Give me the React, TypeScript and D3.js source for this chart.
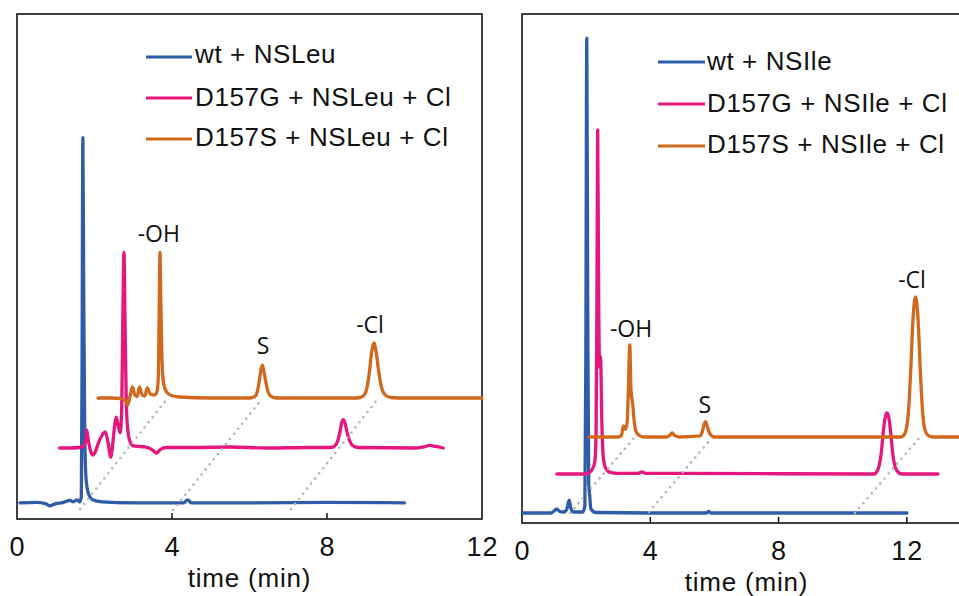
import React, { useEffect, useRef } from "react";
import { scaleLinear, line, curveMonotoneX, axisBottom, select } from "d3";

type Pt = [number, number];

const colors = ["#2e5ca8", "#e5177f", "#d0681e"];
const tickValues = [0, 4, 8, 12];
const axisTitle = "time (min)";

const leuLegend = ["wt + NSLeu", "D157G + NSLeu + Cl", "D157S + NSLeu + Cl"];
const ileLegend = ["wt + NSIle", "D157G + NSIle + Cl", "D157S + NSIle + Cl"];

// stacked baseline of each trace (% of frame height)
const leuOffsets = [3.2, 14.06, 23.96];
const ileOffsets = [1.96, 9.63, 16.9];

// [time (min), signal above baseline]
const leuWt: Pt[] = [
  [0.08, 0], [0.5, 0.1], [0.75, -0.2], [0.85, -0.6], [0.95, -0.3], [1.2, 0.1],
  [1.37, 0.5], [1.45, 0.2], [1.55, 0.6], [1.62, 0.2], [1.66, 1.2], [1.68, 30],
  [1.7, 72.3], [1.72, 45], [1.75, 12], [1.79, 4], [1.86, 1.5], [1.95, 0.6],
  [2.2, 0.2], [3, 0], [4.3, 0], [4.4, 0.6], [4.5, 0], [6, 0], [8, 0.1], [10, 0]
];
const leuG: Pt[] = [
  [1.1, 0], [1.4, 0], [1.6, 0.1], [1.74, 0.6], [1.78, 2], [1.8, 3.6], [1.84, 1.5],
  [1.9, -0.6], [1.95, -1.4], [2.02, -0.8], [2.1, 1], [2.2, 2.6], [2.28, 3.2],
  [2.35, 1], [2.42, -1.8], [2.48, 1.5], [2.52, 4.5], [2.56, 6.1], [2.61, 4.5],
  [2.66, 3], [2.7, 7], [2.73, 25], [2.76, 38.8], [2.79, 24], [2.82, 9], [2.86, 3.5],
  [2.92, 1.2], [3.0, 0.4], [3.3, 0.2], [3.5, -0.4], [3.6, -1], [3.7, -0.3],
  [3.85, 0.1], [4.5, 0.1], [5.5, 0.2], [6.5, 0], [7.5, 0.1], [8.1, 0.1], [8.2, 0.4],
  [8.28, 1.5], [8.33, 3], [8.38, 5], [8.42, 5.6], [8.47, 4.8], [8.52, 3], [8.58, 1.5],
  [8.66, 0.5], [8.8, 0.1], [10.3, 0], [10.5, 0.2], [10.65, 0.5], [10.8, 0.3], [11.0, 0]
];
const leuS: Pt[] = [
  [2.09, 0], [2.4, 0], [2.7, -0.1], [2.8, -0.6], [2.86, -1.4], [2.92, 0.5], [2.98, 2.2],
  [3.04, 0.6], [3.1, 0.3], [3.16, 2.2], [3.23, 0.6], [3.3, 0.4], [3.36, 2.0],
  [3.44, 0.8], [3.55, 0.6], [3.62, 1.5], [3.65, 5], [3.67, 18], [3.69, 28.9],
  [3.71, 20], [3.74, 8], [3.78, 3], [3.86, 1.2], [3.98, 0.5], [4.2, 0.2], [5, 0],
  [6.0, 0], [6.14, 0.3], [6.2, 1.2], [6.25, 3.2], [6.29, 5.4], [6.33, 6.5], [6.37, 5.4],
  [6.42, 3.2], [6.48, 1.2], [6.56, 0.3], [6.7, 0], [8.8, 0], [8.95, 0.5], [9.03, 2],
  [9.1, 5.5], [9.15, 9], [9.21, 10.9], [9.27, 9], [9.33, 5.5], [9.41, 2], [9.5, 0.6],
  [9.65, 0.1], [10, 0], [12, 0]
];

const ileWt: Pt[] = [
  [0.03, 0], [0.9, 0], [1.0, 0.4], [1.08, 0.8], [1.18, 0.3], [1.3, 0.2], [1.4, 0.8],
  [1.47, 2.55], [1.53, 0.8], [1.6, 0.2], [1.9, 0.2], [1.96, 1.5], [1.99, 30],
  [2.02, 93.3], [2.05, 40], [2.08, 6], [2.11, 3.5], [2.15, 0.8], [2.3, 0.1], [4, 0],
  [5.75, 0], [5.82, 0.3], [5.9, 0], [8, 0], [12, 0]
];
const ileG: Pt[] = [
  [1.09, 0], [2.0, 0], [2.1, 0.3], [2.2, 1], [2.27, 2.4], [2.31, 8], [2.34, 40],
  [2.36, 67.6], [2.39, 35], [2.42, 21], [2.45, 23], [2.49, 10], [2.54, 3], [2.62, 1],
  [2.75, 0.3], [3.0, 0.1], [3.6, 0.1], [3.74, 0.4], [3.85, 0.1], [5, 0.1], [11.0, 0],
  [11.05, 0.3], [11.13, 1.5], [11.2, 4], [11.26, 8], [11.32, 11], [11.38, 12],
  [11.44, 11], [11.5, 8], [11.56, 4], [11.63, 1.5], [11.72, 0.4], [11.85, 0], [12.97, 0]
];
const ileS: Pt[] = [
  [2.09, 0], [3.0, 0], [3.1, 0.3], [3.16, 2.2], [3.22, 1.5], [3.28, 3], [3.32, 10],
  [3.36, 18.1], [3.4, 9], [3.45, 6.6], [3.5, 3], [3.56, 1], [3.65, 0.3], [3.8, 0],
  [4.5, 0], [4.62, 0.4], [4.68, 0.8], [4.75, 0.3], [4.9, 0], [5.55, 0.2], [5.62, 1],
  [5.68, 2.5], [5.72, 3], [5.77, 2.2], [5.83, 1], [5.9, 0.3], [6.0, 0], [11.8, 0],
  [11.9, 0.3], [11.98, 1.5], [12.05, 5], [12.12, 13], [12.19, 23], [12.27, 27.5],
  [12.35, 23], [12.42, 13], [12.49, 5], [12.56, 1.5], [12.65, 0.4], [12.8, 0], [14, 0]
];

// dotted guides: [t0, v0, t1, v1]
const leuGuides = [
  [1.63, 1.98, 3.85, 23.56],
  [4.03, 1.78, 6.3, 23.56],
  [7.07, 1.98, 9.29, 23.56]
];
const ileGuides = [
  [1.5, 1.96, 3.52, 16.9],
  [3.96, 2.16, 5.92, 16.7],
  [10.38, 1.96, 12.41, 16.9]
];

// peak labels: text, time, level of baseline
const peakNames = ["-OH", "S", "-Cl"];
const leuLabelPos = [[3.66, 54.85], [6.35, 32.67], [9.11, 36.83]];
const ileLabelPos = [[3.4, 36.54], [5.7, 21.61], [12.16, 46.17]];

const FONT = "'Liberation Sans', Arial, Helvetica, sans-serif";

function Panel({ x0, x1, top, bottom, maxT, tickMarks, traces, offsets, guides, legend, legendPos, labels }) {
  const axisRef = useRef(null);
  const x = scaleLinear().domain([0, maxT]).range([x0, x1]);
  const y = scaleLinear().domain([0, 100]).range([bottom, top]);

  useEffect(() => {
    const g = select(axisRef.current);
    g.call(
      axisBottom(x)
        .tickValues(tickValues)
        .tickFormat(d => String(d))
        .tickSize(0)
        .tickPadding(18)
    );
    g.select(".domain").remove();
    g.attr("font-size", 27).attr("font-family", FONT);
    g.selectAll("text").attr("fill", "#111").attr("letter-spacing", 1);
  }, [x0, x1, maxT]);

  return (
    <g>
      <rect x={x0} y={top} width={x1 - x0} height={bottom - top} fill="none" stroke="#111" strokeWidth={1.6} />
      {tickMarks.map(t => (
        <line key={t} x1={x(t)} x2={x(t)} y1={bottom} y2={bottom - 6} stroke="#111" strokeWidth={1.5} />
      ))}
      <g ref={axisRef} transform={`translate(0,${bottom})`} />
      <text
        x={(x0 + x1) / 2}
        y={bottom + 68}
        textAnchor="middle"
        fontSize={26}
        letterSpacing={0.8}
        fontFamily={FONT}
        fill="#111"
      >
        {axisTitle}
      </text>

      {traces.map((pts, i) => {
        const path = line<Pt>()
          .x(d => x(d[0]))
          .y(d => y(d[1] + offsets[i]))
          .curve(curveMonotoneX)(pts);
        return (
          <path key={i} d={path} fill="none" stroke={colors[i]} strokeWidth={3.3} strokeLinejoin="round" strokeLinecap="round" />
        );
      })}

      {guides.map((g, i) => (
        <line
          key={i}
          x1={x(g[0])}
          y1={y(g[1])}
          x2={x(g[2])}
          y2={y(g[3])}
          stroke="#b3b3b3"
          strokeWidth={2.6}
          strokeDasharray="0 6.5"
          strokeLinecap="round"
        />
      ))}

      {labels.map((p, i) => (
        <text
          key={i}
          x={x(p[0])}
          y={y(p[1])}
          textAnchor="middle"
          fontSize={23}
          fontFamily="'Open Sans', sans-serif"
          fill="#111"
        >
          {peakNames[i]}
        </text>
      ))}

      {legend.map((name, i) => (
        <g key={name}>
          <line
            x1={legendPos.lx0}
            x2={legendPos.lx1}
            y1={legendPos.ly[i]}
            y2={legendPos.ly[i]}
            stroke={colors[i]}
            strokeWidth={3}
          />
          <text
            x={legendPos.tx}
            y={legendPos.ty[i]}
            fontSize={26}
            letterSpacing={0.6}
            fontFamily={FONT}
            fill="#111"
          >
            {name}
          </text>
        </g>
      ))}
    </g>
  );
}

export default function App() {
  const width = 959,
    height = 596;
  return (
    <svg width={width} height={height} style={{ position: "absolute", left: 0, top: 0, background: "#fff" }}>
      <rect width={width} height={height} fill="#fff" />
      <Panel
        x0={17}
        x1={482}
        top={14}
        bottom={519}
        maxT={12}
        tickMarks={[4, 8]}
        traces={[leuWt, leuG, leuS]}
        offsets={leuOffsets}
        guides={leuGuides}
        legend={leuLegend}
        legendPos={{ lx0: 146, lx1: 192, tx: 195, ly: [57, 98, 139], ty: [63, 106, 146] }}
        labels={leuLabelPos}
      />
      <Panel
        x0={522}
        x1={971}
        top={14}
        bottom={523}
        maxT={14}
        tickMarks={[4, 8, 12]}
        traces={[ileWt, ileG, ileS]}
        offsets={ileOffsets}
        guides={ileGuides}
        legend={ileLegend}
        legendPos={{ lx0: 658, lx1: 705, tx: 707, ly: [62, 104, 146], ty: [70, 112, 153] }}
        labels={ileLabelPos}
      />
    </svg>
  );
}
